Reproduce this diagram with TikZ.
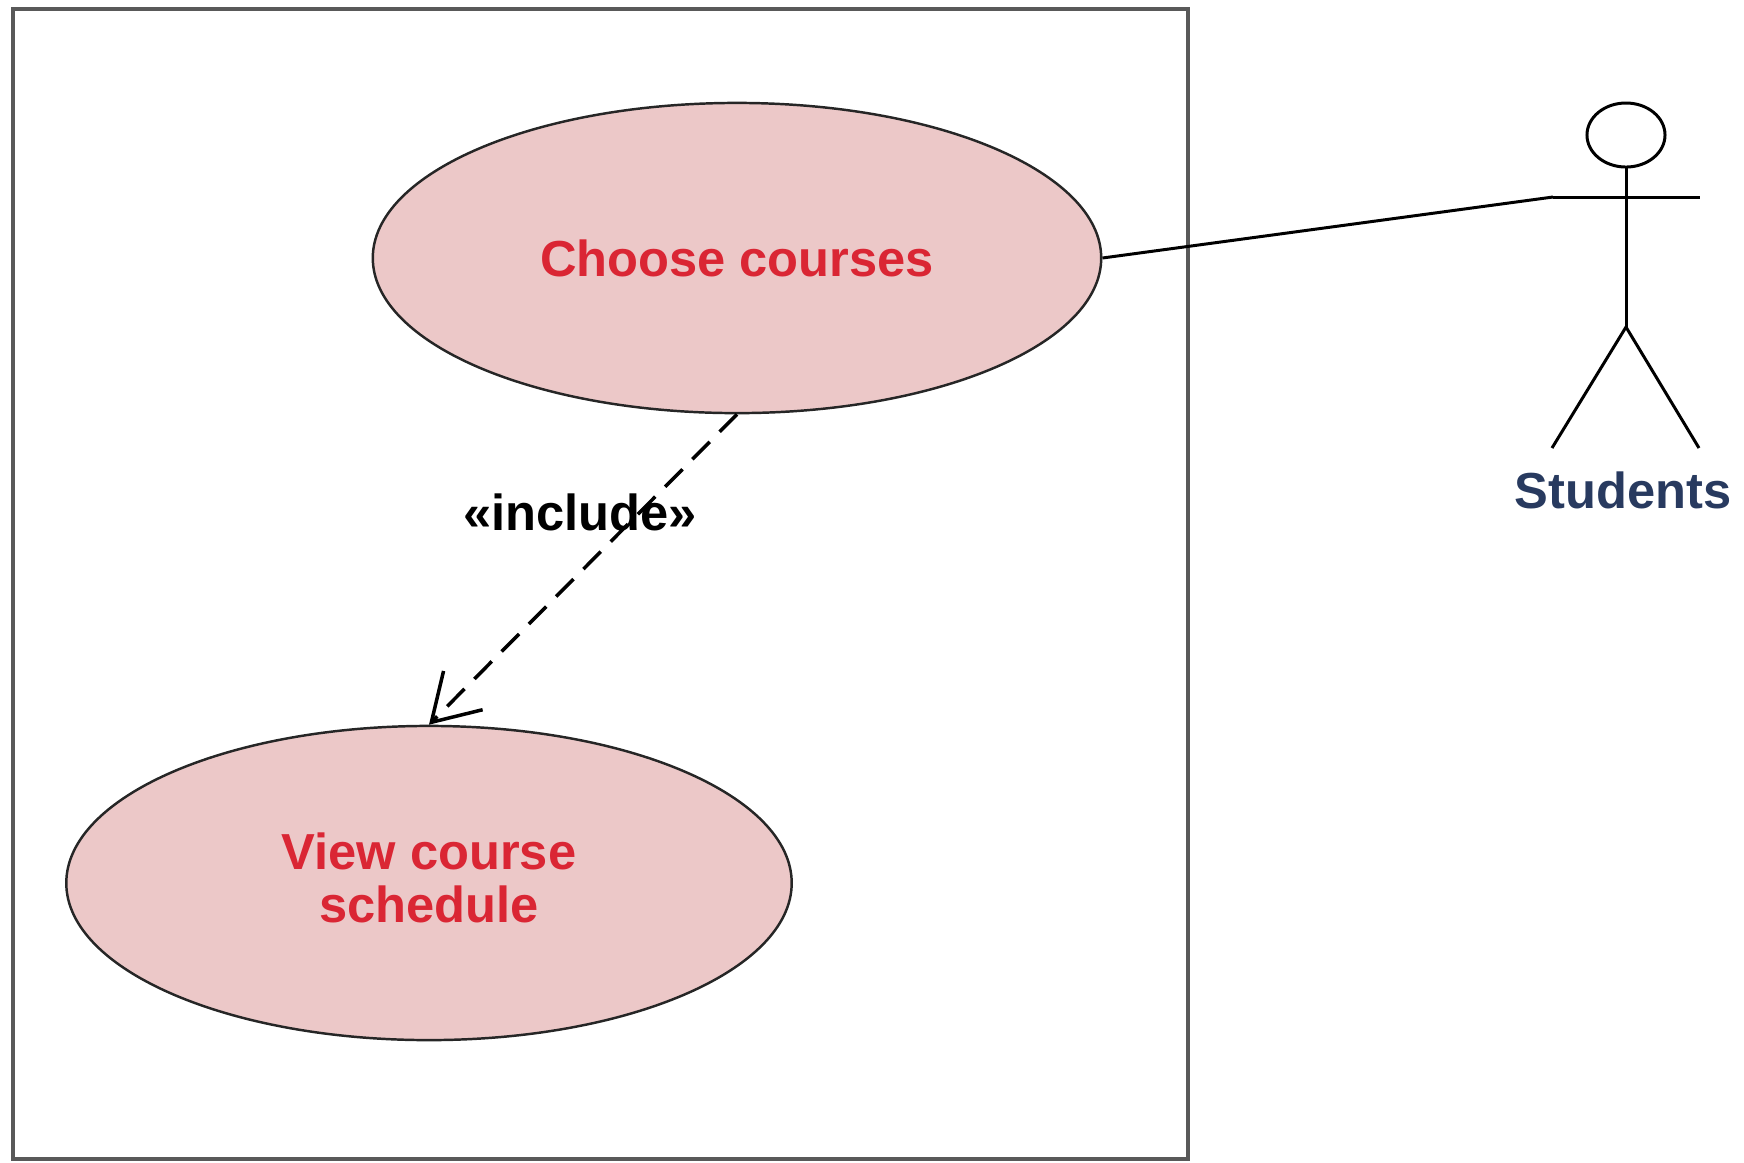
\documentclass[tikz,border=0pt]{standalone}
\usepackage{fontspec}
\setmainfont{Liberation Sans}
\usepackage{tikz}
\usetikzlibrary{shapes.geometric}
\usetikzlibrary{arrows.meta}
\definecolor{ucfill}{RGB}{236,200,200}
\definecolor{uctext}{RGB}{218,38,52}
\definecolor{actortext}{RGB}{40,58,95}

\begin{document}
\begin{tikzpicture}[x=0.01cm,y=-0.01cm,
	usecase/.style={ellipse,draw=black!85,line width=0.7pt,fill=ucfill,inner sep=0pt,text=uctext,align=center,font=\bfseries\fontsize{14.4}{15}\selectfont},
	lbl/.style={font=\bfseries\fontsize{14.4}{15}\selectfont}]
				\useasboundingbox (0,0) rectangle (1744,1162);
				\draw[line width=1.3pt,black!65] (13,9) rectangle (1188,1159);

				\node[usecase,minimum width=7.28cm,minimum height=3.1cm] (CC) at (737,258) {Choose courses};
				\node[usecase,minimum width=7.25cm,minimum height=3.14cm,text depth=0.1cm] (VS) at (429,883) {View course\\schedule};

				\draw[line width=0.85pt] (1626,135) ellipse [x radius=0.39cm, y radius=0.32cm];
				\draw[line width=0.85pt] (1626,167) -- (1626,327);
				\draw[line width=0.85pt] (1553,197) -- (1700,197);
				\draw[line width=0.85pt] (1552,448) -- (1626,327) -- (1699,448);
				\coordinate (armL) at (1553,197);
				\node[lbl,text=actortext] (St) at (1623,490) {Students};

				\draw[line width=0.85pt] (CC.east) -- (armL);
				\draw[line width=1pt,dash pattern=on 7pt off 4pt,-{Straight Barb[length=4.5mm,width=5.5mm]}] (CC.south) -- (VS.north);
				\node[lbl] (inc) at (580,512) {«include»};
			\end{tikzpicture}
\end{document}
